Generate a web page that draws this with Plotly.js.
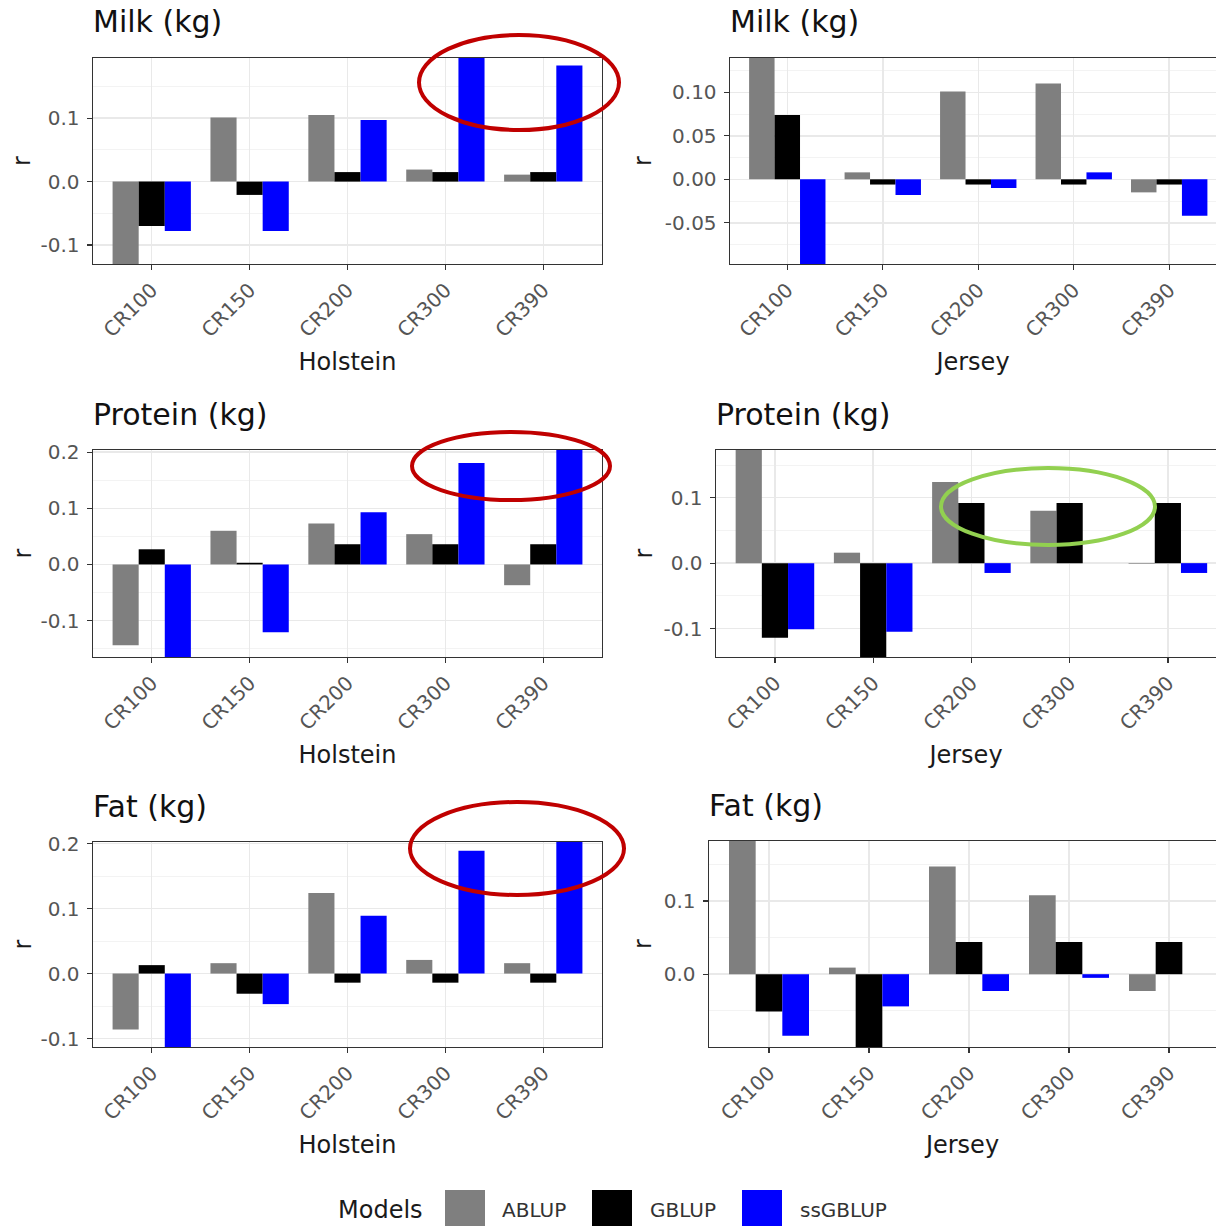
<!DOCTYPE html>
<html>
<head>
<meta charset="utf-8">
<script src="https://cdn.plot.ly/plotly-3.0.1.min.js"></script>
<style>
  html, body { margin: 0; padding: 0; background: #ffffff; }
  #chart { width: 1216px; height: 1226px; }
</style>
</head>
<body>
<div id="chart"></div>
<script>
// ---------------- data ----------------
const categories = ['CR100', 'CR150', 'CR200', 'CR300', 'CR390'];
const models = ['ABLUP', 'GBLUP', 'ssGBLUP'];
const modelColors = ['#7f7f7f', '#000000', '#0000ff'];
const legendTitle = 'Models';
const yTitle = 'r';

const panelTitles = ['Milk (kg)', 'Milk (kg)', 'Protein (kg)', 'Protein (kg)', 'Fat (kg)', 'Fat (kg)'];
const breedTitles = ['Holstein', 'Jersey', 'Holstein', 'Jersey', 'Holstein', 'Jersey'];

// Milk (kg) - Holstein
const milkHolABLUP   = [-0.150, 0.101, 0.105, 0.019, 0.011];
const milkHolGBLUP   = [-0.070, -0.021, 0.015, 0.015, 0.015];
const milkHolSSGBLUP = [-0.078, -0.078, 0.097, 0.200, 0.183];
// Milk (kg) - Jersey
const milkJerABLUP   = [0.150, 0.008, 0.101, 0.110, -0.015];
const milkJerGBLUP   = [0.074, -0.006, -0.006, -0.006, -0.006];
const milkJerSSGBLUP = [-0.100, -0.018, -0.010, 0.008, -0.042];
// Protein (kg) - Holstein
const protHolABLUP   = [-0.144, 0.060, 0.073, 0.054, -0.037];
const protHolGBLUP   = [0.027, 0.003, 0.036, 0.036, 0.036];
const protHolSSGBLUP = [-0.180, -0.121, 0.093, 0.181, 0.210];
// Protein (kg) - Jersey
const protJerABLUP   = [0.180, 0.016, 0.124, 0.080, -0.001];
const protJerGBLUP   = [-0.114, -0.150, 0.092, 0.092, 0.092];
const protJerSSGBLUP = [-0.101, -0.105, -0.015, 0.000, -0.015];
// Fat (kg) - Holstein
const fatHolABLUP    = [-0.086, 0.016, 0.124, 0.021, 0.016];
const fatHolGBLUP    = [0.013, -0.031, -0.014, -0.014, -0.014];
const fatHolSSGBLUP  = [-0.120, -0.047, 0.089, 0.189, 0.210];
// Fat (kg) - Jersey
const fatJerABLUP    = [0.190, 0.009, 0.147, 0.108, -0.023];
const fatJerGBLUP    = [-0.051, -0.105, 0.044, 0.044, 0.044];
const fatJerSSGBLUP  = [-0.084, -0.044, -0.023, -0.005, 0.000];

// y tick values / labels per panel
const milkHolTicks = [-0.1, 0, 0.1];          const milkHolTickText = ['-0.1', '0.0', '0.1'];
const milkJerTicks = [-0.05, 0, 0.05, 0.10];  const milkJerTickText = ['-0.05', '0.00', '0.05', '0.10'];
const protHolTicks = [-0.1, 0, 0.1, 0.2];     const protHolTickText = ['-0.1', '0.0', '0.1', '0.2'];
const protJerTicks = [-0.1, 0, 0.1];          const protJerTickText = ['-0.1', '0.0', '0.1'];
const fatHolTicks  = [-0.1, 0, 0.1, 0.2];     const fatHolTickText  = ['-0.1', '0.0', '0.1', '0.2'];
const fatJerTicks  = [0, 0.1];                const fatJerTickText  = ['0.0', '0.1'];
// minor grid values
const milkHolMinor = [-0.05, 0.05, 0.15];
const milkJerMinor = [-0.075, -0.025, 0.025, 0.075, 0.125];
const protHolMinor = [-0.15, -0.05, 0.05, 0.15];
const protJerMinor = [-0.05, 0.05, 0.15];
const fatHolMinor  = [-0.05, 0.05, 0.15];
const fatJerMinor  = [-0.05, 0.05, 0.15];

// ---------------- layout config ----------------
const W = 1216, H = 1226;
const FONT = 'DejaVu Sans, Liberation Sans, Arial, sans-serif';

const panels = [
  { series: [milkHolABLUP, milkHolGBLUP, milkHolSSGBLUP], tv: milkHolTicks, tt: milkHolTickText, mv: milkHolMinor,
    yr: [-0.130, 0.195], left: 93, right: 602, top: 58, bottom: 264, side: 'L', xr: [-0.6, 4.6] },
  { series: [milkJerABLUP, milkJerGBLUP, milkJerSSGBLUP], tv: milkJerTicks, tt: milkJerTickText, mv: milkJerMinor,
    yr: [-0.0973, 0.1394], left: 730, right: 1216, top: 58, bottom: 264, side: 'R', xr: [-0.6, 4.49] },
  { series: [protHolABLUP, protHolGBLUP, protHolSSGBLUP], tv: protHolTicks, tt: protHolTickText, mv: protHolMinor,
    yr: [-0.165, 0.204], left: 93, right: 602, top: 450, bottom: 657, side: 'L', xr: [-0.6, 4.6] },
  { series: [protJerABLUP, protJerGBLUP, protJerSSGBLUP], tv: protJerTicks, tt: protJerTickText, mv: protJerMinor,
    yr: [-0.1435, 0.173], left: 716, right: 1216, top: 450, bottom: 657, side: 'R', xr: [-0.6, 4.49] },
  { series: [fatHolABLUP, fatHolGBLUP, fatHolSSGBLUP], tv: fatHolTicks, tt: fatHolTickText, mv: fatHolMinor,
    yr: [-0.113, 0.2025], left: 93, right: 602, top: 842, bottom: 1047, side: 'L', xr: [-0.6, 4.6] },
  { series: [fatJerABLUP, fatJerGBLUP, fatJerSSGBLUP], tv: fatJerTicks, tt: fatJerTickText, mv: fatJerMinor,
    yr: [-0.0995, 0.182], left: 709, right: 1216, top: 841, bottom: 1047, side: 'R', xr: [-0.6, 4.47] }
];

const traces = [];
const layout = {
  width: W, height: H,
  margin: { l: 0, r: 0, t: 0, b: 0, pad: 0 },
  paper_bgcolor: '#ffffff', plot_bgcolor: '#ffffff',
  font: { family: FONT, color: '#000000' },
  barmode: 'group', bargap: 0.2, bargroupgap: 0,
  showlegend: false,
  annotations: [], shapes: []
};

const px = v => v / W;
const py = v => 1 - v / H;

panels.forEach((p, k) => {
  const i = k + 1;
  const xa = 'x' + i, ya = 'y' + i;
  p.series.forEach((vals, m) => {
    traces.push({
      type: 'bar', x: categories, y: vals, name: models[m],
      xaxis: xa, yaxis: ya,
      marker: { color: modelColors[m], line: { width: 0 } },
      showlegend: false, hoverinfo: 'x+y+name'
    });
  });
  layout['xaxis' + i] = {
    domain: [px(p.left), px(p.right)], anchor: ya, type: 'category',
    range: p.xr, fixedrange: true,
    showgrid: true, gridcolor: '#e9e9e9', gridwidth: 1.5,
    zeroline: false,
    showline: true, linecolor: '#333333', linewidth: 1.4, mirror: true,
    ticks: 'outside', ticklen: 5, tickwidth: 1.3, tickcolor: '#333333',
    tickangle: -45,
    tickfont: { family: FONT, size: 20, color: '#555555' },
    title: { text: breedTitles[k], font: { family: FONT, size: 24, color: '#1a1a1a' }, standoff: 12 }
  };
  layout['yaxis' + i] = {
    domain: [py(p.bottom), py(p.top)], anchor: xa,
    range: p.yr, fixedrange: true,
    tickmode: 'array', tickvals: p.tv, ticktext: p.tt,
    showgrid: true, gridcolor: '#e9e9e9', gridwidth: 1.5,
    minor: { tickmode: 'array', tickvals: p.mv, showgrid: true, gridcolor: '#f3f3f3', gridwidth: 1, ticks: '' },
    zeroline: false,
    showline: true, linecolor: '#333333', linewidth: 1.4, mirror: p.side === 'L',
    ticks: 'outside', ticklen: 5, tickwidth: 1.3, tickcolor: '#333333',
    ticklabelstandoff: 3,
    tickfont: { family: FONT, size: 20, color: '#555555' }
  };
  // panel title
  layout.annotations.push({
    text: panelTitles[k], xref: xa + ' domain', yref: ya + ' domain', x: 0, y: 1,
    xanchor: 'left', yanchor: 'middle', yshift: 36, xshift: -2, showarrow: false,
    font: { family: FONT, size: 30, color: '#111111' }
  });
  // y axis title "r"
  layout.annotations.push({
    text: yTitle, xref: 'paper', yref: ya + ' domain', x: px(p.side === 'L' ? 22 : 643), y: 0.5,
    xanchor: 'center', yanchor: 'middle', textangle: -90, showarrow: false,
    font: { family: FONT, size: 24, color: '#1a1a1a' }
  });
});

// ---------------- legend (manual, built from models / colors) ----------------
const legendKeyX = [445, 592, 742];
const legendLabelX = [500, 648, 798];
layout.annotations.push({
  text: legendTitle, xref: 'paper', yref: 'paper', x: px(425), y: py(1210),
  xanchor: 'right', yanchor: 'middle', showarrow: false,
  font: { family: FONT, size: 24, color: '#1a1a1a' }
});
models.forEach((m, j) => {
  layout.shapes.push({
    type: 'rect', xref: 'paper', yref: 'paper',
    x0: px(legendKeyX[j]), x1: px(legendKeyX[j] + 40), y0: py(1232), y1: py(1190),
    fillcolor: modelColors[j], line: { width: 0 }
  });
  layout.annotations.push({
    text: m, xref: 'paper', yref: 'paper', x: px(legendLabelX[j]), y: py(1210),
    xanchor: 'left', yanchor: 'middle', showarrow: false,
    font: { family: FONT, size: 20, color: '#333333' }
  });
});

// ---------------- highlight ellipses ----------------
const ellipses = [
  { x0: 419, x1: 619, y0: 35, y1: 130, color: '#c00000' },
  { x0: 412, x1: 610, y0: 432, y1: 500, color: '#c00000' },
  { x0: 410, x1: 624, y0: 802, y1: 895, color: '#c00000' },
  { x0: 941, x1: 1155, y0: 468, y1: 545, color: '#92d050' }
];
ellipses.forEach(e => {
  layout.shapes.push({
    type: 'circle', xref: 'paper', yref: 'paper', layer: 'above',
    x0: px(e.x0), x1: px(e.x1), y0: py(e.y1), y1: py(e.y0),
    line: { color: e.color, width: 4 }, fillcolor: 'rgba(0,0,0,0)'
  });
});

Plotly.newPlot('chart', traces, layout, { staticPlot: true, displayModeBar: false });
</script>
</body>
</html>
